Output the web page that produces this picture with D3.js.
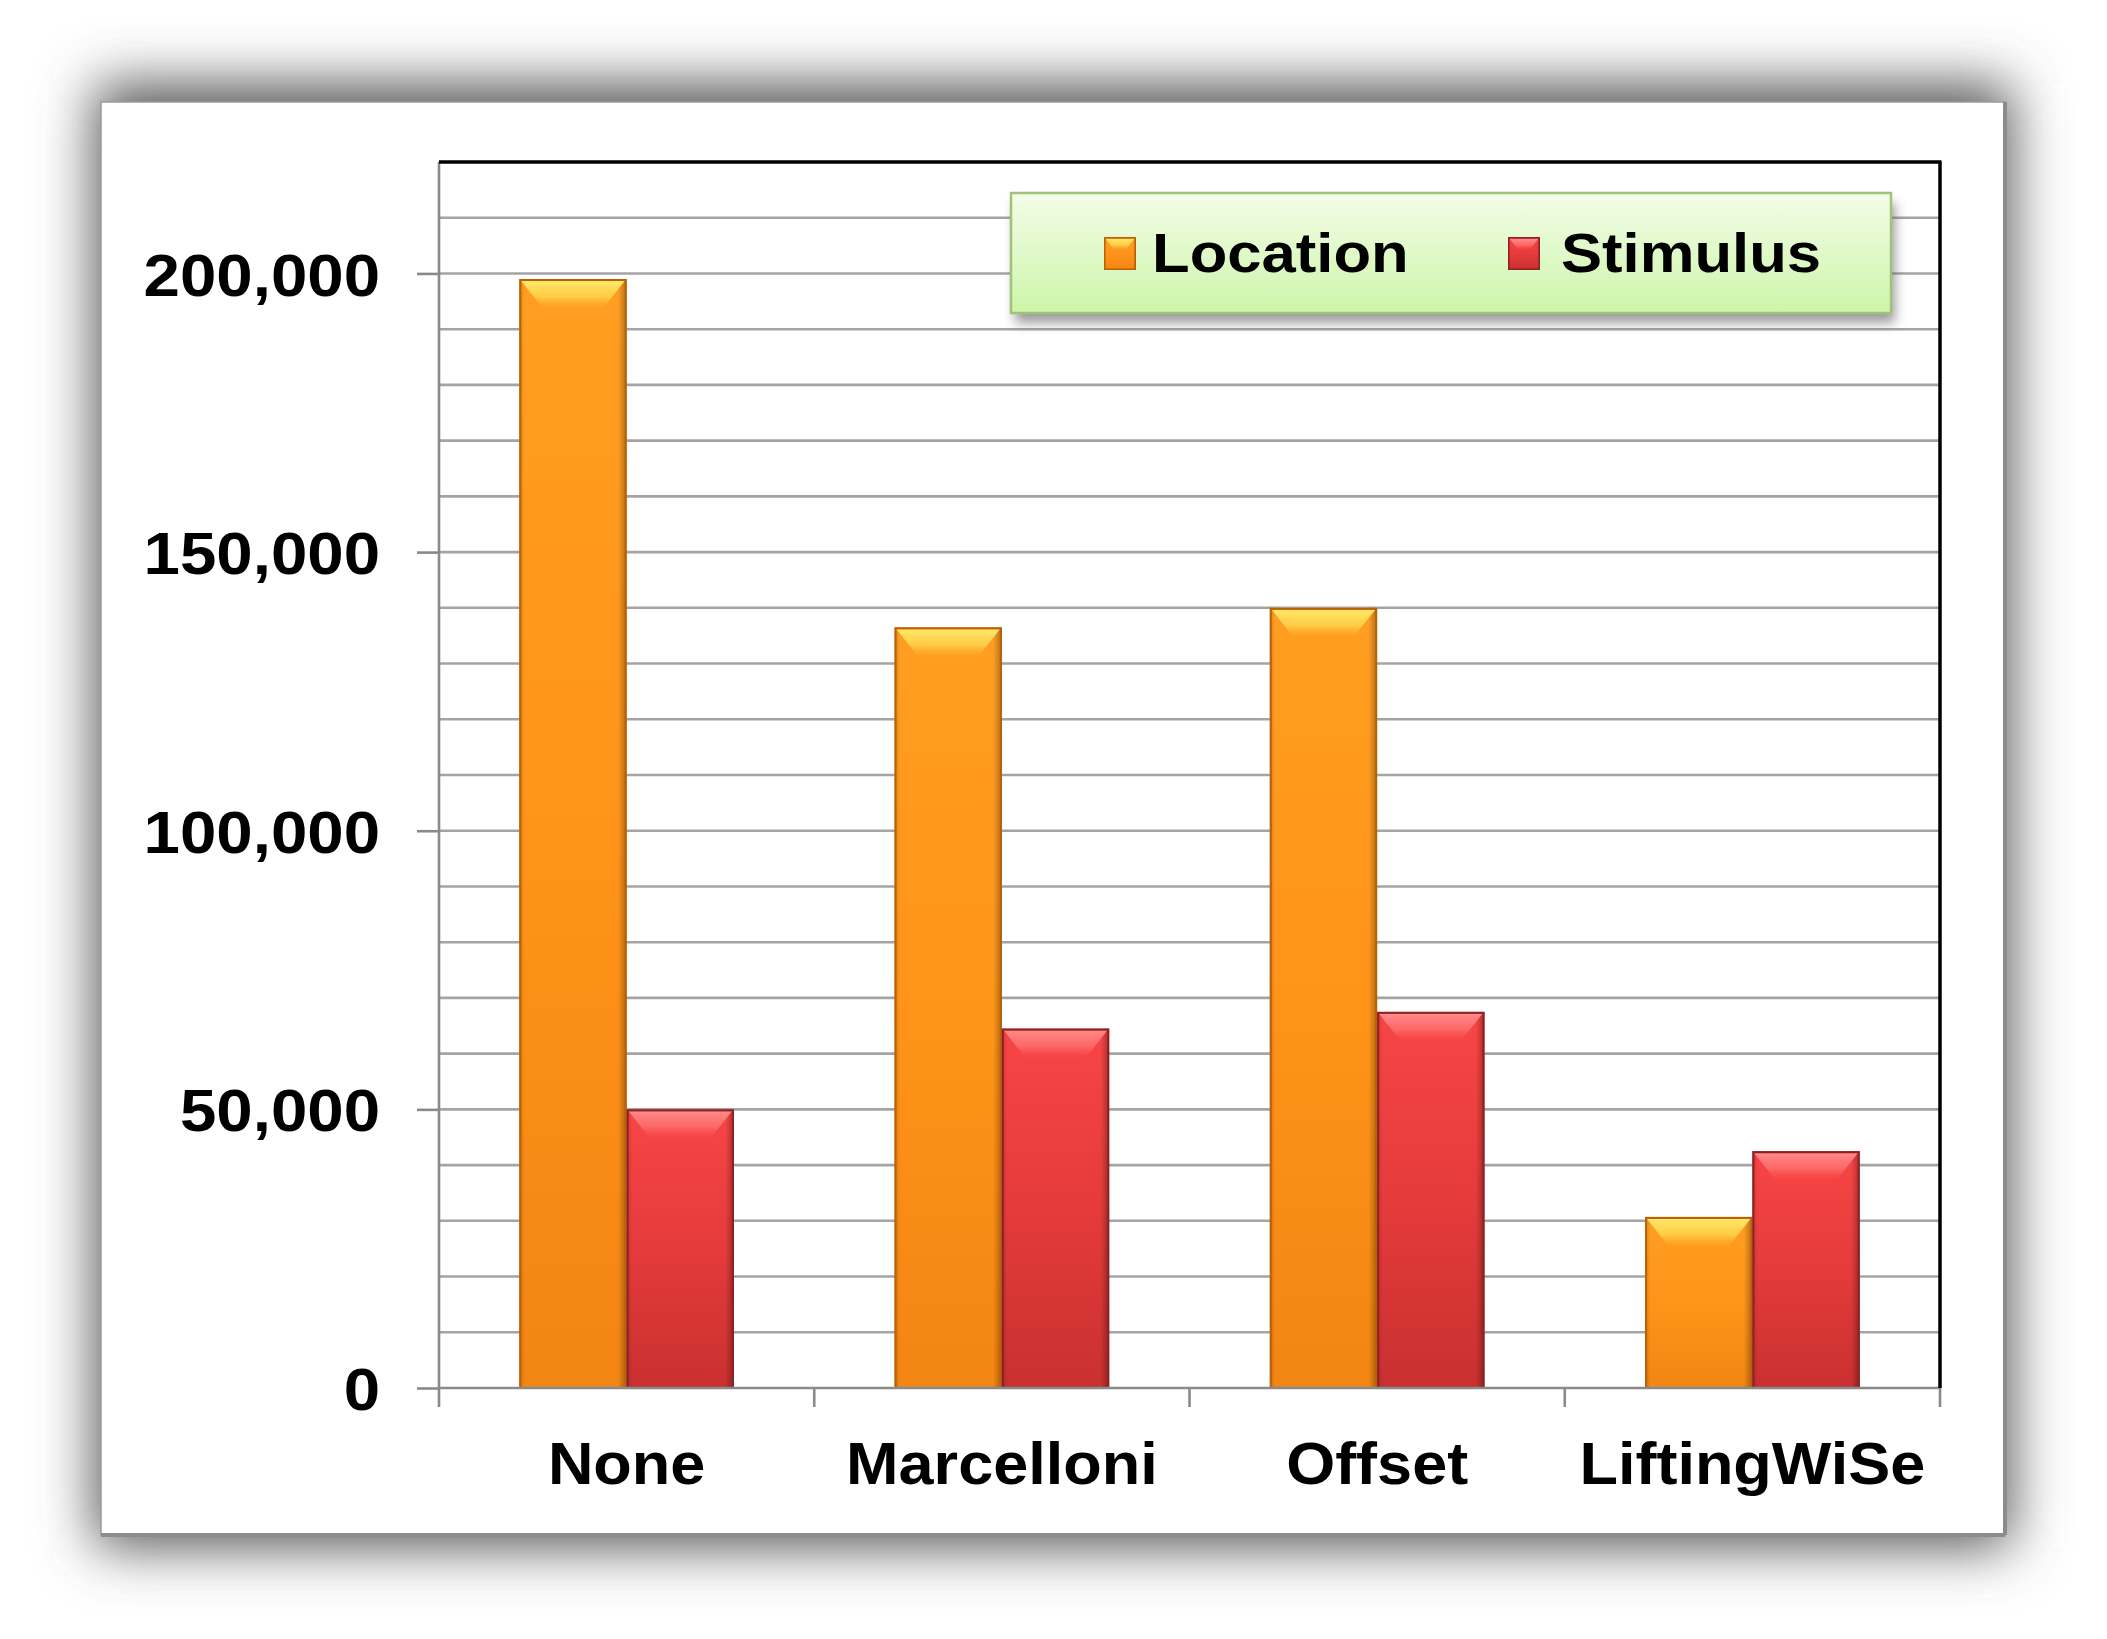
<!DOCTYPE html>
<html>
<head>
<meta charset="utf-8">
<script src="https://cdn.jsdelivr.net/npm/d3@7"></script>
<style>
  html, body { margin: 0; padding: 0; background: #ffffff; }
  svg { display: block; }
  text { font-family: "Liberation Sans", Arial, sans-serif; font-weight: bold; fill: #000; }
</style>
</head>
<body>
<svg id="chart" width="2107" height="1639"></svg>
<script>
// ---- data ----
const categories = ["None", "Marcelloni", "Offset", "LiftingWiSe"];
const seriesNames = ["Location", "Stimulus"];
const locationValues = [199000, 136500, 140000, 30700];
const stimulusValues = [50000, 64500, 67500, 42500];
const yTickValues = [0, 50000, 100000, 150000, 200000];
const yMax = 220000;
const gridStep = 10000;

// ---- layout ----
const W = 2107, H = 1639;
const frame = { x: 101, y: 102, w: 1904, h: 1433 };
const plot = { left: 439, right: 1940, top: 162, bottom: 1388 };

const svg = d3.select("#chart");
const defs = svg.append("defs");

const fsh = defs.append("filter").attr("id", "frameShadow")
  .attr("x", "-15%").attr("y", "-20%").attr("width", "130%").attr("height", "140%");
fsh.append("feGaussianBlur").attr("stdDeviation", 28);

const lsh = defs.append("filter").attr("id", "legendShadow")
  .attr("x", "-10%").attr("y", "-30%").attr("width", "120%").attr("height", "160%");
lsh.append("feGaussianBlur").attr("stdDeviation", 6);

function vGrad(id, stops) {
  const g = defs.append("linearGradient").attr("id", id)
    .attr("x1", 0).attr("y1", 0).attr("x2", 0).attr("y2", 1);
  stops.forEach(s => g.append("stop").attr("offset", s[0]).attr("stop-color", s[1]).attr("stop-opacity", s[2] == null ? 1 : s[2]));
}
function hGrad(id, stops) {
  const g = defs.append("linearGradient").attr("id", id)
    .attr("x1", 0).attr("y1", 0).attr("x2", 1).attr("y2", 0);
  stops.forEach(s => g.append("stop").attr("offset", s[0]).attr("stop-color", s[1]).attr("stop-opacity", s[2] == null ? 1 : s[2]));
}
vGrad("locFill", [[0, "#ff9e22"], [0.5, "#ff9419"], [1, "#f38512"]]);
vGrad("stiFill", [[0, "#f74545"], [0.5, "#e53b3b"], [1, "#c93030"]]);
hGrad("edgeShade", [[0, "#000", 0.16], [0.05, "#000", 0], [0.92, "#000", 0], [1, "#000", 0.3]]);
vGrad("locBevel", [[0, "#ffe868"], [0.55, "#ffd24a", 0.9], [1, "#ffb030", 0]]);
vGrad("stiBevel", [[0, "#ff8a8a"], [0.55, "#ff7070", 0.8], [1, "#ff5050", 0]]);
vGrad("legendFill", [[0, "#f3fde9"], [1, "#cdf5a9"]]);
const colors = {
  Location: { fill: "url(#locFill)", stroke: "#b8600a", bevel: "url(#locBevel)" },
  Stimulus: { fill: "url(#stiFill)", stroke: "#8e2222", bevel: "url(#stiBevel)" }
};

// widen text glyphs to match the reference's broader lettering
function widen(sel, factor) {
  sel.each(function () {
    const L = this.getComputedTextLength();
    d3.select(this).attr("textLength", L * factor).attr("lengthAdjust", "spacingAndGlyphs");
  });
}

// ---- frame ----
svg.append("rect").attr("width", W).attr("height", H).attr("fill", "#ffffff");
svg.append("rect")
  .attr("x", frame.x - 6).attr("y", frame.y - 18).attr("width", frame.w + 12).attr("height", frame.h + 30)
  .attr("fill", "#555555").attr("filter", "url(#frameShadow)");
svg.append("rect")
  .attr("x", frame.x).attr("y", frame.y).attr("width", frame.w).attr("height", frame.h)
  .attr("fill", "#ffffff").attr("stroke", "#9a9a9a").attr("stroke-width", 1.5);
svg.append("line").attr("x1", frame.x + frame.w).attr("x2", frame.x + frame.w)
  .attr("y1", frame.y).attr("y2", frame.y + frame.h).attr("stroke", "#8c8c8c").attr("stroke-width", 4);
svg.append("line").attr("x1", frame.x).attr("x2", frame.x + frame.w)
  .attr("y1", frame.y + frame.h).attr("y2", frame.y + frame.h).attr("stroke", "#8c8c8c").attr("stroke-width", 4);

// ---- scales ----
const y = d3.scaleLinear().domain([0, yMax]).range([plot.bottom, plot.top]);
const x0 = d3.scaleBand().domain(categories).range([plot.left, plot.right]).paddingInner(0).paddingOuter(0);
const groupFrac = 0.572;
const x1 = d3.scaleBand().domain(seriesNames)
  .range([x0.bandwidth() * (1 - groupFrac) / 2, x0.bandwidth() * (1 + groupFrac) / 2]);

// ---- gridlines ----
const gridValues = d3.range(gridStep, yMax, gridStep);
svg.append("g").selectAll("line").data(gridValues).join("line")
  .attr("x1", plot.left).attr("x2", plot.right)
  .attr("y1", d => y(d)).attr("y2", d => y(d))
  .attr("stroke", "#a4a4a4").attr("stroke-width", 2.6);

// ---- y axis ----
const yAxis = d3.axisLeft(y).tickValues(yTickValues).tickFormat(d3.format(",")).tickSize(22).tickPadding(37);
const gy = svg.append("g").attr("transform", `translate(${plot.left},0)`).call(yAxis);
gy.select(".domain").remove();
gy.selectAll(".tick line").attr("stroke", "#8a8a8a").attr("stroke-width", 2.6);
gy.selectAll(".tick text")
  .attr("font-size", 60)
  .attr("font-family", "Liberation Sans, Arial, sans-serif").attr("font-weight", "bold")
  .attr("fill", "#000").attr("dy", "0.36em");
widen(gy.selectAll(".tick text"), 1.09);

svg.append("line").attr("x1", plot.left).attr("x2", plot.left)
  .attr("y1", plot.top).attr("y2", plot.bottom + 19)
  .attr("stroke", "#8a8a8a").attr("stroke-width", 2.6);

// ---- bars ----
const rows = categories.map((c, i) => ({ cat: c, vals: [
  { s: "Location", v: locationValues[i] },
  { s: "Stimulus", v: stimulusValues[i] }] }));

const groups = svg.append("g").selectAll("g").data(rows).join("g")
  .attr("transform", d => `translate(${x0(d.cat)},0)`);

const bars = groups.selectAll("g.bar").data(d => d.vals).join("g").attr("class", "bar");
bars.append("rect")
  .attr("x", d => x1(d.s)).attr("y", d => y(d.v))
  .attr("width", x1.bandwidth()).attr("height", d => y(0) - y(d.v))
  .attr("fill", d => colors[d.s].fill);
bars.append("rect")
  .attr("x", d => x1(d.s)).attr("y", d => y(d.v))
  .attr("width", x1.bandwidth()).attr("height", d => y(0) - y(d.v))
  .attr("fill", "url(#edgeShade)");
bars.append("path")
  .attr("d", d => {
    const bx = x1(d.s), by = y(d.v), bw = x1.bandwidth(), bh = 30;
    return `M${bx + 2},${by + 2}L${bx + bw - 2},${by + 2}L${bx + bw - 24},${by + bh}L${bx + 24},${by + bh}Z`;
  })
  .attr("fill", d => colors[d.s].bevel);
bars.append("rect")
  .attr("x", d => x1(d.s) + 1).attr("y", d => y(d.v) + 1)
  .attr("width", x1.bandwidth() - 2).attr("height", d => y(0) - y(d.v) - 1)
  .attr("fill", "none").attr("stroke", d => colors[d.s].stroke).attr("stroke-width", 2);

// ---- x axis ----
svg.append("line").attr("x1", plot.left).attr("x2", plot.right)
  .attr("y1", plot.bottom).attr("y2", plot.bottom)
  .attr("stroke", "#8a8a8a").attr("stroke-width", 2.6);
const boundaries = categories.map(c => x0(c)).concat([x0.range()[1]]);
svg.append("g").selectAll("line").data(boundaries.slice(1)).join("line")
  .attr("x1", d => d).attr("x2", d => d)
  .attr("y1", plot.bottom).attr("y2", plot.bottom + 19)
  .attr("stroke", "#8a8a8a").attr("stroke-width", 2.6);

const xAxis = d3.axisBottom(x0).tickSize(0).tickPadding(0);
const gx = svg.append("g").attr("transform", `translate(0,${plot.bottom})`).call(xAxis);
gx.select(".domain").remove();
gx.selectAll(".tick text")
  .attr("font-size", 60)
  .attr("font-family", "Liberation Sans, Arial, sans-serif").attr("font-weight", "bold")
  .attr("fill", "#000").attr("dy", 0).attr("y", 96);
widen(gx.selectAll(".tick text"), 1.05);

// ---- top and right plot border (black) ----
svg.append("line").attr("x1", plot.left).attr("x2", plot.right + 1.5)
  .attr("y1", plot.top).attr("y2", plot.top).attr("stroke", "#000").attr("stroke-width", 3.5);
svg.append("line").attr("x1", plot.right).attr("x2", plot.right)
  .attr("y1", plot.top).attr("y2", plot.bottom).attr("stroke", "#000").attr("stroke-width", 3.5);

// ---- legend ----
const lg = { x: 1011, y: 193, w: 880, h: 120 };
svg.append("rect").attr("x", lg.x + 4).attr("y", lg.y + 10).attr("width", lg.w).attr("height", lg.h)
  .attr("fill", "#5a5a5a").attr("opacity", 0.6).attr("filter", "url(#legendShadow)");
svg.append("rect").attr("x", lg.x).attr("y", lg.y).attr("width", lg.w).attr("height", lg.h)
  .attr("fill", "url(#legendFill)").attr("stroke", "#a2c17a").attr("stroke-width", 2.5);

const legendItems = [
  { s: "Location", mx: 1104, tx: 1152 },
  { s: "Stimulus", mx: 1508, tx: 1561 }
];
const li = svg.append("g").selectAll("g").data(legendItems).join("g");
li.append("rect").attr("x", d => d.mx).attr("y", 237).attr("width", 32).attr("height", 33)
  .attr("fill", d => colors[d.s].fill);
li.append("rect").attr("x", d => d.mx).attr("y", 237).attr("width", 32).attr("height", 33)
  .attr("fill", "url(#edgeShade)");
li.append("path").attr("d", d => `M${d.mx + 2},${239}L${d.mx + 30},${239}L${d.mx + 22},${250}L${d.mx + 10},${250}Z`)
  .attr("fill", d => colors[d.s].bevel);
li.append("rect").attr("x", d => d.mx + 0.75).attr("y", 237.75).attr("width", 30.5).attr("height", 31.5)
  .attr("fill", "none").attr("stroke", d => colors[d.s].stroke).attr("stroke-width", 1.5);
const ltext = li.append("text").attr("x", d => d.tx).attr("y", 272)
  .attr("font-size", 56).text(d => d.s);
widen(ltext, 1.1);
</script>
</body>
</html>
